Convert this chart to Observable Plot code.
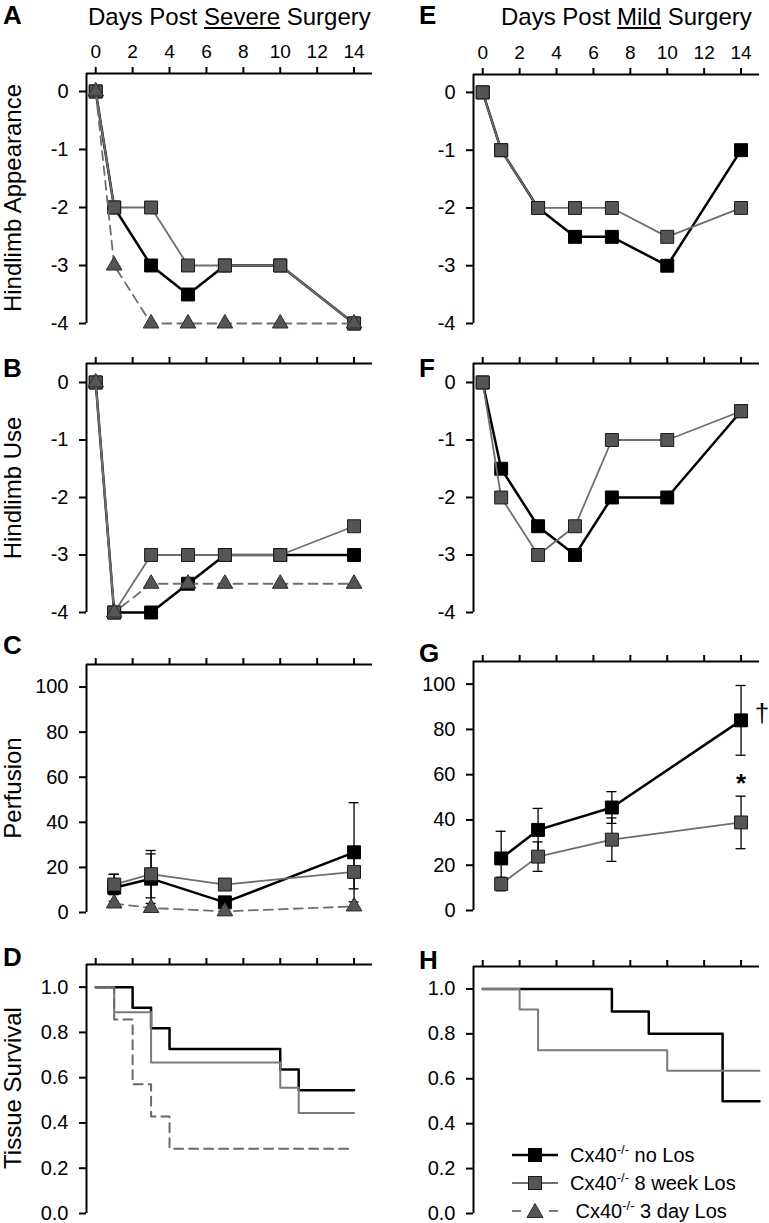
<!DOCTYPE html>
<html><head><meta charset="utf-8">
<script src="https://cdn.jsdelivr.net/npm/d3@7"></script>
<script src="https://cdn.jsdelivr.net/npm/@observablehq/plot@0.6"></script>
<style>
body{margin:0;background:#fff;}
#fig{position:relative;width:769px;height:1223px;font-family:'Liberation Sans',Arial,sans-serif;color:#000;overflow:hidden;background:#fff}
.letter{position:absolute;font-weight:bold;font-size:26px;line-height:26px}
.title{position:absolute;font-size:24px;line-height:24px;white-space:nowrap}
.ylab{position:absolute;font-size:24px;line-height:26px;white-space:nowrap;transform:translate(-50%,-50%) rotate(-90deg)}
.legend{position:absolute;left:512px;top:1141px;font-size:20px;line-height:20px}
.legend .row{display:flex;align-items:center;height:28px;white-space:nowrap}
.legend svg{margin-right:12px;flex:none}
.legend sup{font-size:13px;line-height:0;vertical-align:0;position:relative;top:-8px}
</style></head>
<body><div id="fig"></div>
<script>
// ---------- data ----------
const seriesNames = ["Cx40-/- no Los", "Cx40-/- 8 week Los", "Cx40-/- 3 day Los"];
const xTicks = [0, 2, 4, 6, 8, 10, 12, 14];
const scoreTicks = [0, -1, -2, -3, -4];
const perfTicks = [0, 20, 40, 60, 80, 100];
const survTicks = [0, 0.2, 0.4, 0.6, 0.8, 1.0];

const scoreDays = [0, 1, 3, 5, 7, 10, 14];
const perfDays = [1, 3, 7, 14];

// A: severe, hindlimb appearance
const sevAppNoLos = [0, -2, -3, -3.5, -3, -3, -4];
const sevApp8wk   = [0, -2, -2, -3, -3, -3, -4];
const sevApp3d    = [0, -3, -4, -4, -4, -4, -4];
// B: severe, hindlimb use
const sevUseNoLos = [0, -4, -4, -3.5, -3, -3, -3];
const sevUse8wk   = [0, -4, -3, -3, -3, -3, -2.5];
const sevUse3d    = [0, -4, -3.5, -3.5, -3.5, -3.5, -3.5];
// C: severe, perfusion (mean, error)
const sevPerfNoLos = [11, 15, 4.5, 26.7];
const sevPerfNoLosErr = [6, 11, 2, 22];
const sevPerf8wk = [12.4, 17, 12.4, 18];
const sevPerf8wkErr = [4.5, 10.5, 2.6, 7.5];
const sevPerf3d = [4, 2, 0.5, 2.7];
const sevPerf3dErr = [0, 0, 0, 0];
// D: severe, tissue survival (step)
const sevSurvNoLosDays = [0, 2, 3, 4, 10, 11, 14];
const sevSurvNoLos     = [1, 0.909, 0.818, 0.727, 0.636, 0.545, 0.545];
const sevSurv8wkDays   = [0, 1, 3, 10, 11, 14];
const sevSurv8wk       = [1, 0.889, 0.667, 0.556, 0.444, 0.444];
const sevSurv3dDays    = [0, 1, 2, 3, 4, 14];
const sevSurv3d        = [1, 0.857, 0.571, 0.429, 0.286, 0.286];

// E: mild, hindlimb appearance
const mildAppNoLos = [0, -1, -2, -2.5, -2.5, -3, -1];
const mildApp8wk   = [0, -1, -2, -2, -2, -2.5, -2];
// F: mild, hindlimb use
const mildUseNoLos = [0, -1.5, -2.5, -3, -2, -2, -0.5];
const mildUse8wk   = [0, -2, -3, -2.5, -1, -1, -0.5];
// G: mild, perfusion
const mildPerfNoLos = [23, 35.6, 45.5, 84];
const mildPerfNoLosErr = [12, 9.5, 7, 15.4];
const mildPerf8wk = [11.7, 23.8, 31.3, 38.9];
const mildPerf8wkErr = [3, 6.5, 9.6, 11.6];
const mildPerfMarks = [{day: 14, value: 87, label: "\u2020"}, {day: 14, value: 56, label: "*"}];
// H: mild, tissue survival
const mildSurvNoLosDays = [0, 7, 9, 13, 15];
const mildSurvNoLos     = [1, 0.9, 0.8, 0.5, 0.5];
const mildSurv8wkDays   = [0, 2, 3, 10, 15];
const mildSurv8wk       = [1, 0.909, 0.727, 0.636, 0.636];

// ---------- helpers ----------
const rows = (xs, ys, errs) => xs.map((d, i) => ({day: d, value: ys[i], err: errs ? errs[i] : 0}));
const fig = document.getElementById("fig");
const FONT = "'Liberation Sans', Arial, sans-serif";
const xDomain = [-0.5, 15];
const COLS = {
  left:  {left: 0,   width: 384, ml: 86, mr: 12},
  right: {left: 384, width: 385, ml: 89, mr: 10}
};
const ST = {
  noLos: {line: {stroke: "#000", strokeWidth: 2.5},
          dot: {symbol: "square", r: 7.3, fill: "#000", stroke: "#000", strokeWidth: 1}},
  wk8:   {line: {stroke: "#6e6e6e", strokeWidth: 1.8},
          dot: {symbol: "square", r: 7.3, fill: "#555", stroke: "#1a1a1a", strokeWidth: 1}},
  d3:    {line: {stroke: "#6e6e6e", strokeWidth: 1.8, strokeDasharray: "9,6"},
          dot: {symbol: "triangle", r: 5.8, fill: "#555", stroke: "#2a2a2a", strokeWidth: 1}}
};
const surv = {
  noLos: {stroke: "#000", strokeWidth: 2.5},
  wk8: {stroke: "#7a7a7a", strokeWidth: 2},
  d3: {stroke: "#6a6a6a", strokeWidth: 2, strokeDasharray: "9,6"}
};

function seriesMarks(data, st) {
  return [
    Plot.line(data, {x: "day", y: "value", ...st.line}),
    Plot.dot(data, {x: "day", y: "value", ...st.dot})
  ];
}
function errMarks(data) {
  const d = data.filter(r => r.err > 0);
  const o = {stroke: "#000", strokeWidth: 1.3};
  return [
    Plot.ruleX(d, {x: "day", y1: r => r.value - r.err, y2: r => r.value + r.err, ...o}),
    Plot.ruleY(d, {y: r => r.value + r.err, x1: "day", x2: "day", insetLeft: -5, insetRight: -5, ...o}),
    Plot.ruleY(d, {y: r => r.value - r.err, x1: "day", x2: "day", insetLeft: -5, insetRight: -5, ...o})
  ];
}
function stepMarks(xs, ys, st) {
  return [Plot.line(rows(xs, ys), {x: "day", y: "value", curve: "step-after", ...st})];
}

function panel({col, axisTop, bottom, yDomain, yTicks, yFormat, xLabels, marks}) {
  const c = COLS[col];
  const mt = xLabels ? axisTop : 30, mb = 16;
  const height = mt + (bottom - axisTop) + mb;
  const svg = Plot.plot({
    width: c.width, height,
    marginLeft: c.ml, marginRight: c.mr, marginTop: mt, marginBottom: mb,
    x: {domain: xDomain},
    y: {domain: yDomain},
    style: {fontFamily: FONT, background: "transparent", overflow: "visible"},
    marks: [
      Plot.ruleY([yDomain[1]], {stroke: "#000", strokeWidth: 2}),
      Plot.ruleX([xDomain[0]], {stroke: "#000", strokeWidth: 2}),
      Plot.axisX({anchor: "top", ticks: xTicks, tickSize: 7, tickPadding: 9, strokeWidth: 2,
        fontSize: 19, label: null, tickFormat: xLabels ? (d => String(d)) : (() => "")}),
      Plot.axisY({anchor: "left", ticks: yTicks, tickSize: 7, tickPadding: 11, strokeWidth: 2,
        fontSize: 20, label: null, tickFormat: yFormat}),
      ...marks
    ]
  });
  svg.style.position = "absolute";
  svg.style.left = c.left + "px";
  svg.style.top = (axisTop - mt) + "px";
  fig.appendChild(svg);
}

const intFmt = d => String(d);
const decFmt = d => d.toFixed(1);
const scoreDomain = [-4, 0.31];
const useDomain = [-4, 0.33];

// A
panel({col: "left", axisTop: 73, bottom: 323, yDomain: scoreDomain, yTicks: scoreTicks, yFormat: intFmt, xLabels: true,
  marks: [...seriesMarks(rows(scoreDays, sevAppNoLos), ST.noLos),
          ...seriesMarks(rows(scoreDays, sevApp8wk), ST.wk8),
          ...seriesMarks(rows(scoreDays, sevApp3d), ST.d3)]});
// B
panel({col: "left", axisTop: 363, bottom: 612, yDomain: useDomain, yTicks: scoreTicks, yFormat: intFmt,
  marks: [...seriesMarks(rows(scoreDays, sevUseNoLos), ST.noLos),
          ...seriesMarks(rows(scoreDays, sevUse8wk), ST.wk8),
          ...seriesMarks(rows(scoreDays, sevUse3d), ST.d3)]});
// C
{
  const a = rows(perfDays, sevPerfNoLos, sevPerfNoLosErr), b = rows(perfDays, sevPerf8wk, sevPerf8wkErr), t = rows(perfDays, sevPerf3d, sevPerf3dErr);
  panel({col: "left", axisTop: 664, bottom: 912, yDomain: [0, 110], yTicks: perfTicks, yFormat: intFmt,
    marks: [...errMarks(a), ...errMarks(b), ...seriesMarks(a, ST.noLos), ...seriesMarks(b, ST.wk8), ...seriesMarks(t, ST.d3)]});
}
// D
panel({col: "left", axisTop: 964, bottom: 1213, yDomain: [0, 1.1], yTicks: survTicks, yFormat: decFmt,
  marks: [...stepMarks(sevSurvNoLosDays, sevSurvNoLos, surv.noLos),
          ...stepMarks(sevSurv8wkDays, sevSurv8wk, surv.wk8),
          ...stepMarks(sevSurv3dDays, sevSurv3d, surv.d3)]});
// E
panel({col: "right", axisTop: 74, bottom: 323, yDomain: scoreDomain, yTicks: scoreTicks, yFormat: intFmt, xLabels: true,
  marks: [...seriesMarks(rows(scoreDays, mildAppNoLos), ST.noLos),
          ...seriesMarks(rows(scoreDays, mildApp8wk), ST.wk8)]});
// F
panel({col: "right", axisTop: 363, bottom: 612, yDomain: useDomain, yTicks: scoreTicks, yFormat: intFmt,
  marks: [...seriesMarks(rows(scoreDays, mildUseNoLos), ST.noLos),
          ...seriesMarks(rows(scoreDays, mildUse8wk), ST.wk8)]});
// G
{
  const a = rows(perfDays, mildPerfNoLos, mildPerfNoLosErr), b = rows(perfDays, mildPerf8wk, mildPerf8wkErr);
  panel({col: "right", axisTop: 661, bottom: 910, yDomain: [0, 110], yTicks: perfTicks, yFormat: intFmt,
    marks: [...errMarks(a), ...errMarks(b), ...seriesMarks(a, ST.noLos), ...seriesMarks(b, ST.wk8),
      Plot.text(mildPerfMarks.slice(0, 1), {x: "day", y: "value", text: "label", dx: 21, fontSize: 26, fill: "#000"}),
      Plot.text(mildPerfMarks.slice(1), {x: "day", y: "value", text: "label", fontSize: 26, fontWeight: "bold", fill: "#000"})]});
}
// H
panel({col: "right", axisTop: 966, bottom: 1213, yDomain: [0, 1.1], yTicks: survTicks, yFormat: decFmt,
  marks: [...stepMarks(mildSurvNoLosDays, mildSurvNoLos, surv.noLos),
          ...stepMarks(mildSurv8wkDays, mildSurv8wk, surv.wk8)]});

// ---------- text overlays ----------
function addDiv(cls, html, css) {
  const d = document.createElement("div");
  d.className = cls; d.innerHTML = html;
  Object.assign(d.style, css);
  fig.appendChild(d);
  return d;
}
const letters = [["A", 3, 24], ["B", 3, 377], ["C", 3, 654], ["D", 3, 966],
                 ["E", 419, 24], ["F", 419, 377], ["G", 419, 662], ["H", 419, 969]];
letters.forEach(([t, x, base]) => addDiv("letter", t, {left: x + "px", top: (base - 22) + "px"}));
addDiv("title", "Days Post <u>Severe</u> Surgery", {left: "88px", top: "5px"});
addDiv("title", "Days Post <u>Mild</u> Surgery", {left: "501px", top: "5px"});
const yLabels = [["Hindlimb Appearance", 198], ["Hindlimb Use", 488], ["Perfusion", 788], ["Tissue Survival", 1088]];
yLabels.forEach(([t, cy]) => addDiv("ylab", t, {left: "13px", top: cy + "px"}));

// legend
const legend = addDiv("legend", "", {});
const swatch = {
  noLos: `<svg width="46" height="20"><line x1="0" y1="10" x2="46" y2="10" stroke="#000" stroke-width="2.5"/><rect x="16.5" y="3.5" width="13" height="13" fill="#000" stroke="#000"/></svg>`,
  wk8: `<svg width="46" height="20"><line x1="0" y1="10" x2="46" y2="10" stroke="#6e6e6e" stroke-width="1.8"/><rect x="16.5" y="3.5" width="13" height="13" fill="#555" stroke="#1a1a1a"/></svg>`,
  d3: `<svg width="46" height="20"><line x1="0" y1="10" x2="9" y2="10" stroke="#6e6e6e" stroke-width="1.8"/><line x1="37" y1="10" x2="46" y2="10" stroke="#6e6e6e" stroke-width="1.8"/><path d="M23,2.5L31,16.5L15,16.5Z" fill="#555" stroke="#2a2a2a"/></svg>`
};
const legendRows = [
  [swatch.noLos, "Cx40<sup>-/-</sup> no Los"],
  [swatch.wk8, "Cx40<sup>-/-</sup> 8 week Los"],
  [swatch.d3, "&nbsp;Cx40<sup>-/-</sup> 3 day Los"]
];
legendRows.forEach(([s, t]) => {
  const r = document.createElement("div");
  r.className = "row";
  r.innerHTML = s + "<span>" + t + "</span>";
  legend.appendChild(r);
});
</script></body></html>
